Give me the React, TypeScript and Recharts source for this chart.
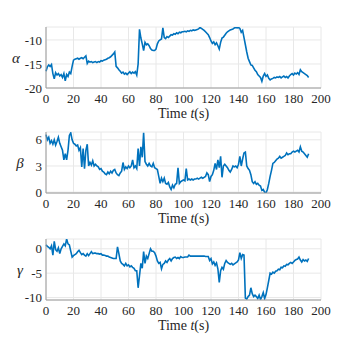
import React from 'react';
import { LineChart, Line, XAxis, YAxis, CartesianGrid } from 'recharts';

const alpha = [
  -16.5, -15.6, -15.2, -15.5, -15.1, -17.0, -18.1, -16.8, -17.3, -17.0,
  -17.5, -17.2, -17.8, -17.0, -18.5, -17.2, -17.6, -16.7, -17.0, -15.5,
  -14.2, -14.0, -13.9, -13.8, -14.0, -13.8, -13.7, -13.9, -13.6, -13.3,
  -14.9, -14.4, -14.6, -14.5, -14.7, -14.6, -14.5, -14.7, -14.5, -14.6,
  -14.3, -14.4, -14.2, -14.1, -14.0, -13.8, -13.7, -13.5, -13.2, -12.9,
  -12.5, -15.5, -15.8, -16.2, -16.5, -16.9, -16.7, -17.1, -16.9, -17.2,
  -16.9, -16.6, -17.0, -16.7, -16.9, -16.6, -17.3, -15.0, -7.8, -9.6,
  -10.8, -12.2, -10.5, -11.0, -10.8, -11.2, -11.8, -12.1, -12.2, -12.2,
  -11.9, -10.8, -10.2, -10.0, -9.8, -7.5, -9.5, -9.7, -9.3, -9.5,
  -9.2, -8.9, -9.0, -8.7, -8.8, -8.5, -8.7, -8.4, -8.5, -8.3,
  -8.3, -8.2, -8.3, -8.1, -8.2, -8.0, -8.1, -7.9, -8.0, -7.9,
  -7.8, -7.7, -7.4, -7.6, -7.8, -8.0, -8.3, -8.6, -8.9, -9.5,
  -10.2, -10.7, -10.4, -11.0, -10.6, -11.2, -11.9, -10.5, -9.6, -9.4,
  -9.0, -8.6, -8.3, -8.1, -7.9, -7.8, -7.7, -7.5, -7.4, -7.5,
  -7.4, -7.6, -8.4, -8.0, -9.5, -11.0, -12.5, -13.8, -14.5, -15.2,
  -15.3, -15.8, -16.3, -16.6, -17.2, -17.5, -17.8, -18.6, -17.5, -17.0,
  -17.6, -17.3, -18.0, -18.3, -18.1, -18.0, -17.8, -17.9, -17.7, -17.8,
  -17.6, -17.9, -17.7, -17.5, -17.8, -17.6, -17.9, -17.5, -17.2, -17.0,
  -17.3, -16.9, -17.1, -16.8, -17.2, -16.2, -16.6, -16.8, -17.0, -17.2,
  -17.4, -17.8,
];

const beta = [
  6.6, 6.0, 6.3, 5.6, 5.9, 5.5, 6.0, 5.4, 5.8, 6.3,
  5.6, 5.2, 4.8, 3.7, 4.4, 3.7, 4.8, 6.5, 6.8, 6.0,
  5.6, 5.5, 5.3, 5.4, 4.8, 5.1, 2.9, 5.0, 2.7, 4.8,
  5.5, 3.0, 3.4, 3.1, 3.6, 3.0, 3.2, 3.0, 2.9, 2.6,
  2.7, 2.4, 2.3, 2.1, 2.0, 2.3, 2.1, 2.4, 2.2, 2.5,
  2.6, 2.2, 2.0, 1.9, 2.2, 2.4, 3.4, 2.6, 2.9, 2.7,
  3.0, 2.8, 3.0, 3.7, 2.8, 3.0, 2.7, 5.0, 3.0, 5.2,
  4.0, 6.8, 3.5, 3.2, 3.0, 3.3, 3.0, 2.9, 3.3, 2.8,
  2.7, 2.6, 1.8, 1.0, 1.6, 1.2, 1.6, 1.0, 0.9, 1.1,
  0.6, 0.3, 0.8, 0.5, 0.9, 1.0, 2.8, 1.0, 1.2, 1.3,
  1.4, 1.3, 2.7, 1.4, 1.5, 1.4, 1.5, 1.4, 1.5, 1.5,
  1.6, 1.5, 1.6, 1.7, 1.6, 1.7, 1.8, 2.2, 2.0, 1.2,
  1.8, 2.0, 2.5, 3.3, 2.6, 3.7, 2.8, 4.1, 1.7, 3.0,
  3.2, 3.0, 2.8, 2.5, 2.3, 2.6, 3.0, 2.9, 3.0, 2.8,
  3.2, 4.1, 3.0, 3.8, 4.5, 4.6, 3.0, 2.7, 2.5, 2.0,
  1.2, 1.0, 1.2, 0.9, 1.0, 0.8, 0.7, 0.2, 0.3, 0.0,
  -0.1, 0.3, 1.0, 1.8, 2.5, 3.3, 3.4, 3.6, 3.8, 3.9,
  4.1, 3.9, 4.0, 4.1, 4.2, 4.5, 4.3, 4.4, 4.4, 4.6,
  4.7, 4.6, 4.7, 4.8, 4.6, 5.2, 4.7, 4.6, 4.4, 4.2,
  4.0, 4.4,
];

const gamma = [
  0.8, 0.5, 0.3, 0.0, 0.6, -1.3, 1.5, -0.2, -0.5, 0.2,
  -1.0, 0.0, 0.5, 1.0, 0.6, 2.0, 1.0, 0.8, -0.5, -1.7,
  -1.4, -1.2, -1.0, -0.6, -0.3, -0.8, -1.2, -1.0, -1.3, -1.5,
  -1.0, -1.4, -1.0, -0.6, -1.0, -0.9, -0.9, -1.0, -1.0, -1.1,
  -1.0, -1.3, -1.3, -1.4, -1.5, -1.5, -1.7, -1.8, -1.9, -2.0,
  -2.0, -2.0, 0.4, -1.0, -2.5, -3.0, -3.2, -3.5, -3.0, -3.5,
  -3.3, -3.7, -3.5, -3.8, -4.0, -4.5, -4.5, -8.0, -5.5, -3.0,
  -4.0, -0.6, -3.0, -1.5, -2.0, -1.0, 0.0, -0.5, -0.5, -0.8,
  -1.5, -2.5, -3.0, -2.8, -4.1, -3.2, -3.0, -2.5, -2.8, -2.3,
  -2.0, -2.5, -2.0, -1.8, -1.7, -2.0, -1.8, -2.0, -1.6, -1.8,
  -1.8, -1.7, -1.7, -1.7, -1.3, -1.5, -1.5, -1.5, -1.5, -1.5,
  -1.5, -1.5, -1.5, -1.5, -1.5, -1.5, -1.6, -1.6, -1.6, -2.4,
  -2.0, -3.1, -2.7, -3.4, -2.9, -4.1, -6.9, -4.5, -3.8, -4.2,
  -3.0, -2.4, -2.8, -3.0, -3.2, -3.0, -3.3, -3.1, -2.9, -2.7,
  -2.3, -0.8, -2.0, -1.2, -1.3, -10.1, -10.3, -9.8, -9.5, -8.0,
  -9.2, -9.8, -9.5, -9.8, -10.2, -9.5, -10.4, -9.8, -9.0, -10.2,
  -9.4, -8.0, -6.5, -5.0, -5.2, -4.8, -5.0, -4.6, -4.5, -4.2,
  -4.3, -3.8, -3.9, -3.5, -3.6, -3.2, -3.3, -3.0, -2.8, -3.0,
  -2.7, -2.4, -2.2, -2.1, -1.7, -2.3, -2.7, -2.2, -2.5, -2.3,
  -2.6, -2.0,
];

const xTicks = [0, 20, 40, 60, 80, 100, 120, 140, 160, 180, 200];
const alphaTicks = [-20, -15, -10];
const betaTicks = [0, 3, 6];
const gammaTicks = [-10, -5, 0];

const data = alpha.map((a, i) => ({ t: i, alpha: a, beta: beta[i], gamma: gamma[i] }));

const FONT = 'Liberation Serif, DejaVu Serif, serif';
const BLUE = '#0072BD';
const TEXT = '#262626';
const BOX = '#9a9a9a';

const XLabel = (props: any) => {
  const vb = props.viewBox;
  return (
    <text x={vb.x + vb.width / 2} y={vb.y + 30} textAnchor="middle" fontFamily={FONT} fontSize={14} fill={TEXT}>
      Time <tspan fontStyle="italic">t</tspan>(s)
    </text>
  );
};

const makeYLabel = (sym: string, x: number) => (props: any) => {
  const vb = props.viewBox;
  return (
    <text x={x} y={vb.y + vb.height / 2 + 5} textAnchor="middle" fontFamily={FONT} fontStyle="italic" fontSize={15} fill={TEXT}>
      {sym}
    </text>
  );
};

const Panel = ({ top, dataKey, domain, ticks, sym, symX }: any) => (
  <div style={{ position: 'absolute', left: 0, top: top - 5 }}>
    <LineChart width={355} height={106} data={data} margin={{ top: 5, right: 34, left: 0, bottom: 0 }}>
      <CartesianGrid stroke="#e8e8e8" strokeWidth={1} />
      <XAxis
        dataKey="t"
        type="number"
        domain={[0, 200]}
        ticks={xTicks}
        interval={0}
        height={40}
        tickSize={0}
        tickMargin={6}
        stroke={BOX}
        tick={{ fill: TEXT, fontFamily: FONT, fontSize: 13 }}
        label={<XLabel />}
      />
      <XAxis xAxisId="top" orientation="top" type="number" domain={[0, 200]} height={0} tick={false} stroke={BOX} />
      <YAxis
        type="number"
        domain={domain}
        ticks={ticks}
        interval={0}
        width={46}
        tickSize={0}
        tickMargin={4}
        allowDataOverflow
        stroke={BOX}
        tick={{ fill: TEXT, fontFamily: FONT, fontSize: 13 }}
        label={makeYLabel(sym, symX)}
      />
      <YAxis yAxisId="right" orientation="right" type="number" domain={domain} width={0} tick={false} stroke={BOX} />
      <Line
        type="linear"
        dataKey={dataKey}
        stroke={BLUE}
        strokeWidth={1.6}
        dot={false}
        isAnimationActive={false}
      />
    </LineChart>
  </div>
);

export default function App() {
  return (
    <div style={{ position: 'absolute', left: 0, top: 0, width: 355, height: 355, background: '#fff' }}>
      <Panel top={26.5} dataKey="alpha" domain={[-20, -7.3]} ticks={alphaTicks} sym="α" symX={16} />
      <Panel top={132} dataKey="beta" domain={[-0.1, 6.9]} ticks={betaTicks} sym="β" symX={20} />
      <Panel top={239} dataKey="gamma" domain={[-10.5, 2.0]} ticks={gammaTicks} sym="γ" symX={20} />
    </div>
  );
}
